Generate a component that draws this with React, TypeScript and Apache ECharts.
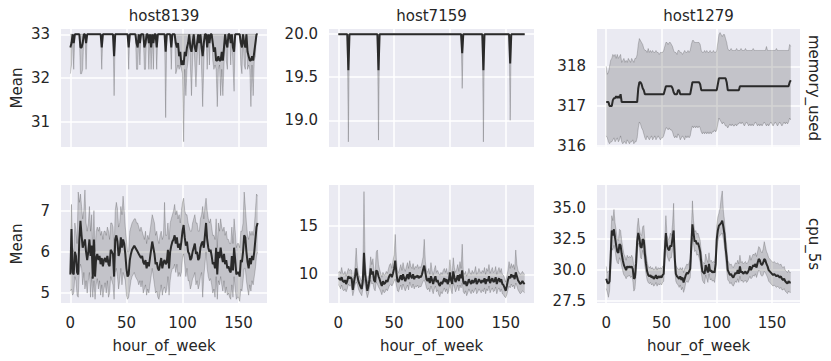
import React, { useEffect, useRef } from "react";
import * as echarts from "echarts";

const hostNames = ["host8139", "host7159", "host1279"];
const metricNames = ["memory_used", "cpu_5s"];
const hourOfWeek: number[] = Array.from({ length: 168 }, (_, i) => i);

// memory_used, host8139
const memMean8139 = [
  32.7, 32.8, 33, 32.8, 33, 33, 33, 33, 33, 32.7,
  32.7, 32.8, 33, 33, 32.8, 33, 33, 33, 33, 33,
  33, 33, 33, 33, 33, 33, 33, 33, 32.7, 33,
  33, 33, 33, 33, 33, 33, 33, 33, 33, 32.5,
  33, 33, 33, 33, 33, 33, 33, 33, 33, 33,
  33, 33, 32.7, 33, 33, 33, 33, 33, 33, 32.8,
  32.7, 33, 32.8, 33, 33, 33, 32.7, 32.8, 33, 33,
  32.8, 33, 32.7, 33, 32.8, 33, 33, 32.7, 33, 33,
  33, 33, 33, 33, 33, 32.6, 33, 33, 33, 33,
  32.7, 33, 33, 33, 32.8, 32.7, 32.8, 32.5, 32.6, 32.3,
  32.4, 32.3, 32.6, 32.5, 32.7, 32.8, 33, 32.7, 32.6, 32.8,
  33, 32.7, 32.6, 32.8, 33, 32.8, 33, 32.7, 32.5, 32.8,
  33, 33, 32.7, 33, 32.8, 33, 33, 32.8, 32.6, 32.7,
  32.4, 32.4, 32.5, 32.4, 32.4, 32.6, 32.4, 32.7, 33, 32.8,
  32.7, 33, 33, 32.8, 33, 32.7, 32.6, 33, 33, 33,
  33, 33, 32.8, 32.7, 33, 32.8, 32.7, 33, 32.6, 32.5,
  32.4, 32.4, 32.5, 32.4, 32.6, 32.8, 33, 33,
];
const memLow8139 = [
  32.1, 32.3, 33, 32.2, 33, 33, 33, 33, 33, 32.1,
  32.1, 32.2, 33, 33, 32.2, 33, 33, 33, 33, 33,
  33, 33, 33, 33, 33, 33, 33, 33, 32.2, 33,
  33, 33, 33, 33, 33, 33, 33, 33, 33, 31.6,
  33, 33, 33, 33, 33, 33, 33, 33, 33, 33,
  33, 33, 32.2, 33, 33, 33, 33, 33, 33, 32.2,
  32.2, 33, 32.3, 33, 33, 33, 32.2, 32.2, 33, 33,
  32.2, 33, 32.2, 33, 32.2, 33, 33, 32.2, 33, 33,
  33, 33, 33, 33, 33, 31.1, 33, 33, 33, 33,
  32.2, 33, 33, 33, 32.1, 32.2, 32.3, 32.2, 32.3, 32.2,
  32.1, 30.55, 32.2, 31.6, 32.2, 32.4, 33, 32.3, 31.6, 32.4,
  33, 32.3, 31.8, 32.4, 33, 32.3, 33, 32.2, 31.35, 32.3,
  33, 33, 32.2, 33, 32.3, 33, 33, 32.4, 32.2, 32.3,
  32.2, 31.35, 32.2, 32.3, 31.6, 32.2, 31.6, 32.3, 33, 32.4,
  32.2, 33, 33, 32.3, 33, 32.3, 31.7, 33, 33, 33,
  33, 33, 32.3, 32.1, 33, 32.3, 32.2, 33, 32.2, 32.3,
  32.2, 31.35, 32.3, 31.6, 32.4, 32.5, 33, 33,
];
const memHigh8139 = [
  33, 33, 33, 33, 33, 33, 33, 33, 33, 33,
  33, 33, 33, 33, 33, 33, 33, 33, 33, 33,
  33, 33, 33, 33, 33, 33, 33, 33, 33, 33,
  33, 33, 33, 33, 33, 33, 33, 33, 33, 33,
  33, 33, 33, 33, 33, 33, 33, 33, 33, 33,
  33, 33, 33, 33, 33, 33, 33, 33, 33, 33,
  33, 33, 33, 33, 33, 33, 33, 33, 33, 33,
  33, 33, 33, 33, 33, 33, 33, 33, 33, 33,
  33, 33, 33, 33, 33, 33, 33, 33, 33, 33,
  33, 33, 33, 33, 33, 33, 33, 33, 33, 33,
  33, 33, 33, 33, 33, 33, 33, 33, 33, 33,
  33, 33, 33, 33, 33, 33, 33, 33, 33, 33,
  33, 33, 33, 33, 33, 33, 33, 33, 33, 33,
  33, 33, 33, 33, 33, 33, 33, 33, 33, 33,
  33, 33, 33, 33, 33, 33, 33, 33, 33, 33,
  33, 33, 33, 33, 33, 33, 33, 33, 33, 33,
  33, 33, 33, 33, 33, 33, 33, 33,
];

// memory_used, host7159
const memMean7159 = [
  20, 20, 20, 20, 20, 20, 20, 20, 20, 19.58,
  20, 20, 20, 20, 20, 20, 20, 20, 20, 20,
  20, 20, 20, 20, 20, 20, 20, 20, 20, 20,
  20, 20, 20, 20, 20, 20, 19.58, 20, 20, 20,
  20, 20, 20, 20, 20, 20, 20, 20, 20, 20,
  20, 20, 20, 20, 20, 20, 20, 20, 20, 20,
  20, 20, 20, 20, 20, 20, 20, 20, 20, 20,
  20, 20, 20, 20, 20, 20, 20, 20, 20, 20,
  20, 20, 20, 20, 20, 20, 20, 20, 20, 20,
  20, 20, 20, 20, 20, 20, 20, 20, 20, 20,
  20, 20, 20, 20, 20, 20, 20, 20, 20, 20,
  20, 19.78, 20, 20, 20, 20, 20, 20, 20, 20,
  20, 20, 20, 20, 20, 20, 20, 20, 20, 20,
  19.58, 20, 20, 20, 20, 20, 20, 20, 20, 20,
  20, 20, 20, 20, 20, 20, 20, 20, 20, 20,
  20, 20, 20, 20, 19.66, 20, 20, 20, 20, 20,
  20, 20, 20, 20, 20, 20, 20, 20,
];
const memLow7159 = [
  20, 20, 20, 20, 20, 20, 20, 20, 20, 18.75,
  20, 20, 20, 20, 20, 20, 20, 20, 20, 20,
  20, 20, 20, 20, 20, 20, 20, 20, 20, 20,
  20, 20, 20, 20, 20, 20, 18.77, 20, 20, 20,
  20, 20, 20, 20, 20, 20, 20, 20, 20, 20,
  20, 20, 20, 20, 20, 20, 20, 20, 20, 20,
  20, 20, 20, 20, 20, 20, 20, 20, 20, 20,
  20, 20, 20, 20, 20, 20, 20, 20, 20, 20,
  20, 20, 20, 20, 20, 20, 20, 20, 20, 20,
  20, 20, 20, 20, 20, 20, 20, 20, 20, 20,
  20, 20, 20, 20, 20, 20, 20, 20, 20, 20,
  20, 19.37, 20, 20, 20, 20, 20, 20, 20, 20,
  20, 20, 20, 20, 20, 20, 20, 20, 20, 20,
  18.75, 20, 20, 20, 20, 20, 20, 20, 20, 20,
  20, 20, 20, 20, 20, 20, 20, 20, 20, 20,
  20, 20, 20, 20, 19.0, 20, 20, 20, 20, 20,
  20, 20, 20, 20, 20, 20, 20, 20,
];
const memHigh7159 = [
  20, 20, 20, 20, 20, 20, 20, 20, 20, 20,
  20, 20, 20, 20, 20, 20, 20, 20, 20, 20,
  20, 20, 20, 20, 20, 20, 20, 20, 20, 20,
  20, 20, 20, 20, 20, 20, 20, 20, 20, 20,
  20, 20, 20, 20, 20, 20, 20, 20, 20, 20,
  20, 20, 20, 20, 20, 20, 20, 20, 20, 20,
  20, 20, 20, 20, 20, 20, 20, 20, 20, 20,
  20, 20, 20, 20, 20, 20, 20, 20, 20, 20,
  20, 20, 20, 20, 20, 20, 20, 20, 20, 20,
  20, 20, 20, 20, 20, 20, 20, 20, 20, 20,
  20, 20, 20, 20, 20, 20, 20, 20, 20, 20,
  20, 20, 20, 20, 20, 20, 20, 20, 20, 20,
  20, 20, 20, 20, 20, 20, 20, 20, 20, 20,
  20, 20, 20, 20, 20, 20, 20, 20, 20, 20,
  20, 20, 20, 20, 20, 20, 20, 20, 20, 20,
  20, 20, 20, 20, 20, 20, 20, 20, 20, 20,
  20, 20, 20, 20, 20, 20, 20, 20,
];

// memory_used, host1279
const memMean1279 = [
  317.1, 317.1, 317.1, 317, 317, 317, 317.15, 317.2, 317.2, 317.25,
  317.2, 317.25, 317.2, 317.3, 317.1, 317.1, 317.1, 317.1, 317.1, 317.1,
  317.1, 317.1, 317.1, 317.1, 317.1, 317.1, 317.1, 317.1, 317.1, 317.45,
  317.6, 317.6, 317.55, 317.45, 317.4, 317.3, 317.3, 317.3, 317.3, 317.3,
  317.3, 317.3, 317.3, 317.3, 317.3, 317.3, 317.3, 317.3, 317.3, 317.3,
  317.3, 317.3, 317.3, 317.4, 317.5, 317.5, 317.5, 317.5, 317.5, 317.5,
  317.45, 317.35, 317.3, 317.3, 317.3, 317.4, 317.4, 317.3, 317.3, 317.3,
  317.3, 317.3, 317.3, 317.3, 317.3, 317.3, 317.3, 317.45, 317.6, 317.6,
  317.6, 317.6, 317.6, 317.6, 317.6, 317.55, 317.4, 317.4, 317.4, 317.4,
  317.4, 317.4, 317.4, 317.4, 317.4, 317.4, 317.4, 317.4, 317.4, 317.4,
  317.4, 317.55, 317.7, 317.7, 317.7, 317.7, 317.7, 317.7, 317.7, 317.6,
  317.4, 317.4, 317.4, 317.4, 317.4, 317.4, 317.4, 317.4, 317.4, 317.4,
  317.4, 317.5, 317.5, 317.5, 317.5, 317.5, 317.5, 317.5, 317.5, 317.5,
  317.5, 317.5, 317.5, 317.5, 317.5, 317.5, 317.5, 317.5, 317.5, 317.5,
  317.5, 317.5, 317.5, 317.5, 317.5, 317.5, 317.5, 317.5, 317.5, 317.5,
  317.5, 317.5, 317.5, 317.5, 317.5, 317.5, 317.5, 317.5, 317.5, 317.5,
  317.5, 317.5, 317.5, 317.5, 317.5, 317.5, 317.6, 317.65,
];
const memLow1279 = [
  316.25, 316.2, 316.1, 316.05, 316.1, 316.1, 316.15, 316.2, 316.1, 316.15,
  316.2, 316.1, 316.15, 316.25, 316.1, 316.05, 316.1, 316.1, 316.05, 316.15,
  316.1, 316.05, 316.1, 316.1, 316.15, 316.05, 316.1, 316.1, 316.2, 316.45,
  316.6, 316.55, 316.45, 316.4, 316.3, 316.2, 316.15, 316.25, 316.2, 316.15,
  316.2, 316.25, 316.15, 316.2, 316.25, 316.15, 316.2, 316.25, 316.2, 316.15,
  316.2, 316.2, 316.25, 316.35, 316.45, 316.45, 316.4, 316.45, 316.4, 316.4,
  316.35, 316.25, 316.2, 316.25, 316.2, 316.3, 316.25, 316.15, 316.2, 316.25,
  316.2, 316.15, 316.25, 316.2, 316.25, 316.2, 316.25, 316.4, 316.5, 316.45,
  316.5, 316.45, 316.5, 316.45, 316.5, 316.45, 316.35, 316.3, 316.35, 316.3,
  316.35, 316.3, 316.35, 316.3, 316.35, 316.3, 316.35, 316.35, 316.4, 316.35,
  316.4, 316.55, 316.7, 316.65, 316.6, 316.55, 316.6, 316.55, 316.5, 316.5,
  316.45, 316.5, 316.55, 316.5, 316.55, 316.5, 316.5, 316.55, 316.5, 316.55,
  316.55, 316.6, 316.55, 316.6, 316.55, 316.5, 316.55, 316.6, 316.55, 316.5,
  316.55, 316.5, 316.55, 316.5, 316.55, 316.6, 316.55, 316.5, 316.55, 316.5,
  316.55, 316.5, 316.55, 316.6, 316.55, 316.5, 316.55, 316.5, 316.55, 316.6,
  316.55, 316.5, 316.55, 316.6, 316.55, 316.5, 316.55, 316.6, 316.55, 316.5,
  316.55, 316.6, 316.55, 316.6, 316.55, 316.6, 316.7, 316.65,
];
const memHigh1279 = [
  318, 317.8, 317.85, 318, 318.15, 318.2, 318.3, 318.25, 318.3, 318.2,
  318.3, 318.2, 318.25, 318.3, 318.1, 318.15, 318.2, 318.1, 318.15, 318.1,
  318.2, 318.15, 318.1, 318.2, 318.15, 318.1, 318.2, 318.2, 318.3, 318.55,
  318.7, 318.65, 318.6, 318.55, 318.45, 318.4, 318.4, 318.35, 318.45, 318.35,
  318.4, 318.35, 318.4, 318.35, 318.35, 318.4, 318.35, 318.35, 318.3, 318.35,
  318.35, 318.35, 318.4, 318.5, 318.6, 318.6, 318.55, 318.6, 318.6, 318.55,
  318.5, 318.4, 318.35, 318.35, 318.3, 318.4, 318.4, 318.35, 318.35, 318.3,
  318.35, 318.4, 318.35, 318.35, 318.4, 318.35, 318.4, 318.55, 318.65, 318.65,
  318.6, 318.6, 318.6, 318.6, 318.6, 318.55, 318.4, 318.35, 318.35, 318.4,
  318.35, 318.4, 318.35, 318.35, 318.4, 318.35, 318.35, 318.4, 318.35, 318.35,
  318.4, 318.6, 318.8, 318.85, 318.8, 318.75, 318.8, 318.8, 318.7, 318.6,
  318.45, 318.4, 318.4, 318.45, 318.4, 318.4, 318.4, 318.4, 318.45, 318.4,
  318.4, 318.4, 318.45, 318.4, 318.4, 318.4, 318.45, 318.4, 318.4, 318.4,
  318.4, 318.4, 318.4, 318.45, 318.4, 318.4, 318.4, 318.4, 318.4, 318.4,
  318.4, 318.4, 318.4, 318.4, 318.4, 318.5, 318.4, 318.4, 318.4, 318.4,
  318.4, 318.4, 318.4, 318.4, 318.45, 318.4, 318.4, 318.4, 318.4, 318.4,
  318.4, 318.4, 318.4, 318.4, 318.4, 318.4, 318.55, 318.5,
];

// cpu_5s, host8139
const cpuMean8139 = [
  5.45, 6.55, 5.5, 5.45, 6.0, 5.9, 5.5, 5.45, 6.3, 6.75,
  6.4, 6.1, 6.2, 6.3, 6.0, 5.8, 6.0, 6.3, 5.9, 6.15,
  5.35, 6.3, 5.4, 5.85, 5.95, 5.8, 5.9, 5.7, 5.85, 5.65,
  5.8, 5.85, 5.75, 5.9, 5.7, 5.65, 6.05, 6.0, 5.95, 5.4,
  6.3, 6.4, 6.25, 5.9, 6.0, 6.35, 6.1, 6.3, 6.2, 5.95,
  5.6, 5.4, 5.45, 5.8, 5.95, 6.05, 6.1, 6.15, 6.1, 6.05,
  6.0, 5.95, 5.9, 5.85, 5.9, 5.75, 5.7, 5.8, 5.6, 5.75,
  5.65, 5.85, 6.05, 6.25, 6.1, 5.95, 5.7, 5.75, 5.6, 5.55,
  5.7, 5.85, 5.6, 5.75, 5.8, 5.7, 5.75, 6.05, 5.6, 6.0,
  6.15, 6.25, 6.3, 6.4, 6.2, 6.35, 6.1, 6.2, 6.05, 6.25,
  6.5, 6.65, 6.35, 6.15, 6.25, 6.0, 5.95, 5.8, 5.85, 6.0,
  6.1, 6.2, 5.95, 6.0, 5.8, 5.85, 6.1, 6.2, 6.25, 6.1,
  6.4, 6.7, 6.3, 6.1, 6.0, 6.05, 5.9, 5.7, 5.75, 5.6,
  6.1, 5.45, 6.0, 5.85, 6.1, 5.9, 5.75, 5.95, 5.7, 5.8,
  5.6, 5.65, 5.55, 5.5, 5.9, 5.55, 6.1, 5.8, 5.45, 5.5,
  5.5, 5.4, 5.8, 5.75, 6.0, 6.4, 6.35, 6.0, 5.75, 5.6,
  5.85, 5.7, 5.9, 5.8, 6.0, 6.3, 6.6, 6.7,
];
const cpuLow8139 = [
  5.05, 5.1, 4.95, 5.0, 5.4, 5.3, 4.95, 4.9, 5.5, 5.7,
  5.6, 5.2, 5.5, 5.1, 5.3, 5.0, 5.3, 5.5, 4.9, 5.4,
  4.9, 5.3, 4.85, 5.2, 5.35, 5.1, 5.3, 4.95, 5.2, 4.9,
  5.1, 5.25, 5.0, 5.3, 4.9, 5.0, 5.4, 5.3, 5.2, 4.85,
  5.5, 5.6, 5.4, 5.1, 5.3, 5.6, 5.2, 5.5, 5.4, 5.3,
  4.95, 4.85, 4.9, 5.1, 5.3, 5.4, 5.45, 5.5, 5.4, 5.35,
  5.3, 5.2, 5.3, 5.15, 5.3, 5.0, 5.1, 5.2, 4.95, 5.1,
  5.0, 5.2, 5.4, 5.6, 5.4, 5.2, 5.0, 5.05, 4.9, 4.85,
  5.0, 5.2, 4.95, 5.1, 5.15, 5.0, 5.1, 5.4, 4.95, 5.3,
  5.5, 5.6, 5.6, 5.7, 5.5, 5.7, 5.4, 5.5, 5.4, 5.5,
  5.85, 5.95, 5.7, 5.4, 5.6, 5.3, 5.3, 5.1, 5.2, 5.35,
  5.4, 5.5, 5.2, 5.3, 5.1, 5.2, 5.4, 5.5, 4.9, 5.4,
  5.7, 6.0, 5.6, 5.4, 5.3, 5.35, 5.2, 5.0, 5.1, 4.9,
  5.4, 4.85, 5.3, 5.2, 5.4, 5.2, 5.05, 5.3, 5.0, 5.15,
  4.95, 5.0, 4.9, 4.85, 5.2, 4.9, 5.4, 5.1, 4.85, 4.9,
  4.9, 4.8, 5.1, 5.05, 5.3, 5.6, 5.6, 5.3, 5.1, 4.95,
  5.2, 5.05, 5.3, 5.2, 5.4, 5.6, 5.9, 6.0,
];
const cpuHigh8139 = [
  6.0, 7.15, 6.1, 6.0, 6.7, 6.5, 6.2, 7.45, 7.2, 7.4,
  7.1, 6.8, 7.0, 7.5, 6.7, 6.5, 6.7, 7.1, 6.5, 6.9,
  6.0, 7.0, 6.0, 6.5, 6.6, 6.5, 6.6, 6.4, 6.5, 6.3,
  6.5, 6.5, 6.4, 6.6, 6.5, 6.3, 6.7, 6.7, 6.6, 6.0,
  7.0, 7.2, 7.05, 6.6, 6.7, 7.1, 6.9, 7.35, 7.0, 6.6,
  6.3, 6.0, 6.0, 6.5, 6.6, 6.7, 6.75, 6.8, 6.8, 6.7,
  6.7, 6.6, 6.5, 6.6, 6.5, 6.4, 6.3, 6.5, 6.2, 6.4,
  6.3, 6.5, 6.7, 6.9, 6.8, 6.7, 6.4, 6.5, 6.3, 6.2,
  6.4, 6.5, 6.3, 6.4, 7.2, 6.4, 6.4, 6.7, 6.3, 6.7,
  6.8, 6.9, 7.0, 7.15, 6.9, 7.0, 6.8, 6.9, 6.7, 7.0,
  7.2, 7.3, 7.0, 6.9, 6.9, 6.7, 6.6, 6.5, 6.5, 6.7,
  6.8, 6.9, 6.7, 6.7, 6.5, 6.5, 6.8, 6.9, 7.1, 6.8,
  7.1, 7.3, 7.0, 6.8, 6.7, 6.8, 6.6, 6.4, 6.4, 6.3,
  6.8, 6.1, 6.7, 6.5, 6.8, 6.6, 6.5, 6.6, 6.4, 6.5,
  6.3, 6.3, 6.2, 6.2, 6.6, 6.2, 6.8, 6.5, 6.1, 6.2,
  6.2, 6.1, 6.5, 6.5, 6.7, 7.45, 7.1, 6.7, 6.4, 6.3,
  6.5, 6.4, 6.5, 6.4, 6.6, 7.0, 7.4, 7.35,
];

// cpu_5s, host7159
const cpuMean7159 = [
  9.5, 9.6, 9.4, 9.7, 9.3, 9.2, 9.4, 9.0, 9.3, 9.8,
  9.6, 9.7, 9.5, 8.4, 9.2, 9.8, 10.6, 9.9, 9.3, 9.0,
  8.7, 8.5, 9.4, 12.2, 10.0, 9.2, 8.3, 8.8, 9.5, 10.6,
  10.0, 10.3, 9.4, 9.2, 10.4, 10.3, 9.8, 9.5, 9.1, 8.8,
  9.3, 9.0, 9.1, 9.4, 9.2, 9.6, 9.9, 10.0, 9.7, 10.1,
  10.6, 11.4, 10.2, 9.3, 9.2, 9.6, 9.9, 9.4, 10.0, 9.6,
  9.3, 9.7, 10.0, 9.5, 10.2, 9.8, 9.6, 10.0, 9.5, 9.8,
  9.7, 9.9, 9.6, 9.8, 9.7, 10.0, 10.5, 10.9, 10.2, 9.5,
  9.3, 9.6, 9.1, 9.8, 9.4, 9.0, 9.5, 9.8, 9.2, 9.4,
  9.0, 8.8, 9.2, 9.0, 9.3, 9.6, 9.2, 9.5, 9.0, 9.3,
  10.2, 9.4, 9.0, 10.3, 9.7, 9.2, 9.5, 9.9, 9.3, 10.0,
  9.6, 10.4, 9.2, 9.0, 9.3, 8.8, 9.1, 9.5, 9.2, 9.0,
  9.4, 9.1, 9.3, 9.6, 9.0, 9.2, 9.5, 9.3, 9.1, 9.4,
  9.2, 9.6, 9.0, 9.5, 9.3, 9.8, 9.1, 9.4, 9.6, 9.2,
  9.3, 9.7, 9.0, 9.4, 9.6, 9.2, 9.5, 9.0, 8.9, 8.6,
  8.3, 8.8, 9.4, 9.8, 9.6, 10.0, 9.7, 9.9, 9.5, 10.2,
  9.8, 9.4, 9.2, 9.0, 9.1, 9.3, 9.1, 9.0,
];
const cpuLow7159 = [
  8.9, 8.8, 8.5, 8.9, 8.4, 8.3, 8.5, 8.2, 8.5, 9.0,
  8.8, 8.9, 8.6, 7.8, 8.3, 8.9, 9.2, 9.0, 8.5, 8.2,
  8.0, 7.8, 8.5, 9.5, 8.8, 8.2, 7.6, 8.0, 8.6, 9.4,
  9.0, 9.1, 8.5, 8.3, 9.2, 9.0, 8.7, 8.5, 8.2, 7.9,
  8.4, 8.1, 8.2, 8.5, 8.3, 8.6, 8.9, 9.0, 8.8, 9.0,
  9.3, 9.5, 8.9, 8.3, 8.2, 8.6, 8.9, 8.4, 9.0, 8.6,
  8.3, 8.6, 8.9, 8.4, 9.2, 8.8, 8.6, 9.0, 8.5, 8.8,
  8.7, 8.9, 8.6, 8.8, 8.7, 9.0, 9.3, 9.4, 9.1, 8.6,
  8.4, 8.6, 8.2, 8.8, 8.4, 8.0, 8.5, 8.8, 8.2, 8.4,
  7.9, 7.7, 8.2, 8.0, 8.3, 8.6, 8.2, 8.5, 8.0, 8.3,
  9.0, 8.4, 8.0, 9.1, 8.7, 8.2, 8.5, 8.9, 8.3, 8.9,
  8.6, 9.1, 8.2, 8.0, 8.3, 7.8, 8.1, 8.5, 8.2, 8.0,
  8.4, 8.1, 8.3, 8.6, 8.0, 8.2, 8.5, 8.3, 8.1, 8.4,
  8.2, 8.6, 8.0, 8.5, 8.3, 8.8, 8.1, 8.4, 8.6, 8.2,
  8.3, 8.7, 8.0, 8.4, 8.6, 8.2, 8.5, 8.0, 7.9, 7.7,
  7.6, 7.9, 8.4, 8.8, 8.6, 9.0, 8.7, 8.9, 8.5, 9.1,
  8.8, 8.4, 8.2, 8.0, 8.1, 8.3, 8.2, 8.1,
];
const cpuHigh7159 = [
  10.2, 10.3, 10.1, 10.7, 10.1, 10.0, 10.3, 9.8, 10.2, 10.6,
  10.4, 10.5, 10.4, 9.1, 10.1, 10.8, 12.7, 10.9, 10.1, 9.8,
  9.5, 9.3, 10.4, 18.5, 11.3, 10.2, 9.1, 9.7, 10.5, 11.8,
  11.0, 11.6, 10.3, 10.2, 12.3, 12.5, 11.0, 10.5, 10.1, 9.7,
  10.2, 9.9, 10.0, 10.3, 10.1, 10.6, 11.0, 11.1, 10.6, 11.4,
  12.0, 14.1, 11.6, 10.3, 10.2, 10.6, 11.0, 10.4, 11.2, 10.6,
  10.3, 10.8, 11.2, 10.6, 11.4, 10.8, 10.6, 11.1, 10.5, 10.8,
  10.7, 11.0, 10.6, 10.8, 10.7, 11.2, 11.8, 13.6, 11.3, 10.4,
  10.2, 10.6, 10.0, 11.2, 10.4, 9.9, 10.5, 10.9, 10.2, 10.4,
  10.1, 9.9, 10.2, 10.0, 10.4, 10.6, 10.2, 10.6, 10.0, 10.3,
  11.5, 10.4, 10.0, 11.7, 10.7, 10.2, 10.5, 11.0, 10.3, 11.3,
  10.6, 13.1, 10.2, 10.0, 10.3, 9.8, 10.1, 10.6, 10.2, 10.0,
  10.4, 10.1, 10.3, 10.8, 10.0, 10.2, 10.6, 10.3, 10.1, 10.4,
  10.2, 10.7, 10.0, 10.6, 10.3, 11.0, 10.1, 10.4, 10.7, 10.2,
  10.3, 10.8, 10.0, 10.4, 10.7, 10.2, 10.6, 10.0, 9.9, 9.6,
  9.2, 9.8, 10.4, 11.3, 10.6, 11.1, 10.7, 11.0, 10.5, 12.5,
  11.0, 10.4, 10.2, 10.0, 10.1, 10.3, 10.1, 10.0,
];

// cpu_5s, host1279
const cpuMean1279 = [
  29.3, 29.0, 28.9, 29.1, 31.0, 33.2, 32.8, 33.3, 32.6, 32.0,
  31.5, 31.4, 32.1, 32.0, 31.3, 30.8, 30.4, 30.2, 30.0, 30.3,
  30.2, 30.3, 30.2, 30.3, 30.1, 29.3, 29.4, 30.5, 32.3, 33.0,
  32.6, 31.9, 31.8, 32.5, 32.4, 31.3, 30.5, 29.9, 29.6, 29.5,
  29.6, 29.4, 29.5, 29.3, 29.4, 29.6, 29.3, 29.5, 29.4, 29.5,
  29.4, 29.6, 29.7, 31.5, 33.0, 32.0, 31.7, 31.6, 32.0, 31.9,
  32.6, 33.2, 31.0, 29.7, 29.5, 29.4, 29.3, 29.5, 29.2, 29.4,
  29.0, 29.3, 29.6, 29.8, 29.7, 29.9, 30.1, 32.0, 33.7, 33.0,
  32.3, 32.4, 32.1, 32.2, 31.9, 31.5, 30.6, 29.9, 29.8, 29.7,
  30.4, 30.1, 29.8, 30.5, 29.9, 30.0, 29.8, 29.9, 29.8, 30.5,
  32.5, 33.2, 33.6, 33.7, 33.8, 34.0, 33.5, 32.9, 31.8, 31.0,
  30.0, 29.8, 29.6, 29.7, 29.5, 29.4, 29.6, 29.8, 29.7, 30.0,
  29.7, 30.3, 29.8, 29.9, 29.7, 29.8, 29.9, 29.7, 29.8, 30.0,
  30.3, 30.0, 30.2, 30.4, 30.3, 30.5, 30.2, 30.6, 30.9, 30.8,
  30.5, 30.4, 30.6, 30.9, 30.8, 30.5, 30.3, 30.0, 29.9, 29.8,
  29.7, 29.6, 29.7, 29.6, 29.5, 29.6, 29.5, 29.4, 29.5, 29.3,
  29.2, 29.3, 29.1, 29.0, 28.9, 29.1, 29.0, 29.0,
];
const cpuLow1279 = [
  28.5, 28.2, 27.8, 28.3, 29.8, 31.8, 31.6, 32.0, 31.6, 30.9,
  30.6, 30.5, 31.0, 30.8, 30.3, 29.9, 29.6, 29.5, 29.3, 29.5,
  29.5, 29.6, 29.4, 29.5, 29.2, 28.3, 28.5, 29.6, 31.3, 32.2,
  31.9, 31.0, 30.9, 31.6, 31.2, 30.3, 29.7, 29.2, 29.0, 28.9,
  29.0, 28.8, 28.9, 28.7, 28.8, 29.0, 28.7, 28.9, 28.8, 28.9,
  28.8, 29.0, 29.1, 30.5, 32.1, 31.2, 30.9, 30.7, 31.0, 31.0,
  31.6, 32.0, 30.0, 29.1, 28.9, 28.8, 28.6, 28.8, 28.4, 28.6,
  28.2, 28.5, 29.0, 29.1, 29.0, 29.2, 29.4, 30.9, 32.6, 32.1,
  31.5, 31.6, 31.2, 31.3, 31.0, 30.6, 29.8, 29.2, 29.0, 28.9,
  29.6, 29.3, 29.0, 29.7, 29.2, 29.3, 29.1, 29.2, 29.0, 29.6,
  31.5, 32.3, 32.7, 32.8, 32.9, 33.0, 32.5, 31.9, 30.9, 30.0,
  29.2, 29.1, 28.9, 29.0, 28.8, 28.7, 28.9, 29.1, 29.0, 29.3,
  29.0, 29.5, 29.1, 29.2, 29.0, 29.1, 29.2, 29.0, 29.1, 29.3,
  29.5, 29.3, 29.4, 29.6, 29.5, 29.7, 29.4, 29.7, 30.0, 29.9,
  29.6, 29.5, 29.6, 29.9, 29.8, 29.6, 29.4, 29.1, 29.0, 28.9,
  28.8, 28.7, 28.8, 28.7, 28.6, 28.7, 28.6, 28.5, 28.6, 28.4,
  28.4, 28.5, 28.3, 28.2, 28.1, 28.3, 28.2, 28.2,
];
const cpuHigh1279 = [
  30.3, 29.8, 29.9, 30.0, 32.2, 34.4, 34.0, 34.9, 33.8, 33.2,
  32.5, 32.4, 33.3, 33.2, 32.4, 31.8, 31.3, 31.1, 30.8, 31.2,
  31.0, 31.1, 31.0, 31.2, 31.0, 30.3, 30.4, 31.5, 33.4, 34.2,
  33.4, 32.9, 32.8, 33.5, 33.6, 32.4, 31.4, 30.7, 30.3, 30.2,
  30.3, 30.1, 30.2, 30.0, 30.1, 30.3, 30.0, 30.2, 30.1, 30.2,
  30.1, 30.3, 30.4, 32.6, 34.4, 32.8, 32.5, 32.5, 33.0, 32.8,
  33.7, 35.4, 32.0, 30.4, 30.2, 30.1, 30.0, 30.2, 30.0, 30.2,
  29.8, 30.1, 30.3, 30.5, 30.4, 30.6, 30.9, 33.2, 35.6, 34.0,
  33.1, 33.2, 32.9, 33.0, 32.7, 32.4, 31.5, 30.7, 30.6, 30.5,
  31.3, 30.9, 30.6, 31.4, 30.7, 30.8, 30.6, 30.7, 30.6, 31.4,
  33.6, 34.3, 34.6, 35.0, 35.8, 36.4, 34.8, 34.0, 32.8, 32.0,
  30.8, 30.6, 30.4, 30.5, 30.3, 30.2, 30.4, 30.6, 30.5, 30.8,
  30.5, 31.2, 30.6, 30.7, 30.5, 30.6, 30.7, 30.5, 30.6, 30.8,
  31.2, 30.8, 31.1, 31.3, 31.2, 31.4, 31.1, 31.5, 31.9, 31.8,
  31.5, 31.4, 31.7, 32.3, 31.9, 31.5, 31.3, 31.0, 30.9, 30.8,
  30.7, 30.6, 30.7, 30.6, 30.5, 30.6, 30.5, 30.4, 30.5, 30.3,
  30.2, 30.3, 30.0, 29.9, 29.8, 30.0, 29.8, 29.8,
];

const xTicks = [0, 50, 100, 150];

const FONT = "DejaVu Sans";
const TXT = "#262626";
const BG = "#EAEAF2";
const LINE = "#2a2a2a";
const BAND = "rgba(38,38,38,0.2)";
const EDGE = "rgba(38,38,38,0.22)";

export default function App() {
  const ref = useRef<HTMLDivElement>(null);
  useEffect(() => {
    document.body.style.margin = "0";
    const chart = echarts.init(ref.current!, null, { renderer: "svg" });

    const colLeft = [61, 329, 597];
    const colWidth = [206, 205, 203];
    const rowTop = [29, 185];
    const H = 118;

    const panels = [
      { mean: memMean8139, low: memLow8139, high: memHigh8139, min: 30.43, max: 33.12, ticks: [31, 32, 33], dec: 0 },
      { mean: memMean7159, low: memLow7159, high: memHigh7159, min: 18.69, max: 20.06, ticks: [19, 19.5, 20], dec: 1 },
      { mean: memMean1279, low: memLow1279, high: memHigh1279, min: 315.97, max: 318.94, ticks: [316, 317, 318], dec: 0 },
      { mean: cpuMean8139, low: cpuLow8139, high: cpuHigh8139, min: 4.76, max: 7.62, ticks: [5, 6, 7], dec: 0 },
      { mean: cpuMean7159, low: cpuLow7159, high: cpuHigh7159, min: 7.05, max: 19.18, ticks: [10, 15], dec: 0 },
      { mean: cpuMean1279, low: cpuLow1279, high: cpuHigh1279, min: 27.34, max: 36.88, ticks: [27.5, 30, 32.5, 35], dec: 1 },
    ];

    const grids: any[] = [];
    const xAxes: any[] = [];
    const yAxes: any[] = [];
    const series: any[] = [];

    panels.forEach((p, i) => {
      const r = Math.floor(i / 3);
      const c = i % 3;
      grids.push({
        left: colLeft[c],
        top: rowTop[r],
        width: colWidth[c],
        height: H,
        show: true,
        backgroundColor: BG,
        borderWidth: 0,
        containLabel: false,
      });
      xAxes.push({
        type: "value",
        gridIndex: i,
        min: -8.35,
        max: 175.35,
        axisLine: { show: false },
        axisTick: { show: false, customValues: xTicks },
        axisLabel: {
          show: r === 1,
          customValues: xTicks,
          color: TXT,
          fontSize: 15,
          fontFamily: FONT,
          margin: 12,
        },
        splitLine: { show: true, lineStyle: { color: "#ffffff", width: 1.5 } },
      });
      yAxes.push({
        type: "value",
        gridIndex: i,
        min: p.min,
        max: p.max,
        axisLine: { show: false },
        axisTick: { show: false, customValues: p.ticks },
        axisLabel: {
          customValues: p.ticks,
          color: TXT,
          fontSize: 15,
          fontFamily: FONT,
          margin: 11,
          formatter: (v: number) => v.toFixed(p.dec),
        },
        splitLine: { show: true, lineStyle: { color: "#ffffff", width: 1.5 } },
      });
      // confidence band as one polygon
      series.push({
        type: "custom",
        xAxisIndex: i,
        yAxisIndex: i,
        silent: true,
        clip: true,
        z: 1,
        data: hourOfWeek.map((h, k) => [h, p.low[k], p.high[k]]),
        encode: { x: 0, y: [1, 2] },
        renderItem: (params: any, api: any) => {
          if (params.dataIndex !== 0) return null;
          const pts: number[][] = [];
          for (let k = 0; k < hourOfWeek.length; k++) pts.push(api.coord([hourOfWeek[k], p.high[k]]));
          for (let k = hourOfWeek.length - 1; k >= 0; k--) pts.push(api.coord([hourOfWeek[k], p.low[k]]));
          return { type: "polygon", shape: { points: pts }, style: { fill: BAND, stroke: null } };
        },
      });
      series.push({
        type: "line",
        xAxisIndex: i,
        yAxisIndex: i,
        symbol: "none",
        silent: true,
        lineStyle: { color: EDGE, width: 1 },
        data: hourOfWeek.map((h, k) => [h, p.low[k]]),
        z: 2,
      });
      series.push({
        type: "line",
        xAxisIndex: i,
        yAxisIndex: i,
        symbol: "none",
        silent: true,
        lineStyle: { color: EDGE, width: 1 },
        data: hourOfWeek.map((h, k) => [h, p.high[k]]),
        z: 2,
      });
      series.push({
        type: "line",
        xAxisIndex: i,
        yAxisIndex: i,
        symbol: "none",
        silent: true,
        lineStyle: { color: LINE, width: 2 },
        data: hourOfWeek.map((h, k) => [h, p.mean[k]]),
        z: 3,
      });
    });

    const textStyle = (text: string) => ({
      text,
      fontSize: 15,
      fontFamily: FONT,
      fill: TXT,
      align: "center",
      verticalAlign: "middle",
    });

    const graphic: any[] = [];
    hostNames.forEach((name, c) => {
      graphic.push({ type: "text", x: colLeft[c] + colWidth[c] / 2, y: 16, style: textStyle(name) });
      graphic.push({ type: "text", x: colLeft[c] + colWidth[c] / 2, y: 346, style: textStyle("hour_of_week") });
    });
    metricNames.forEach((name, r) => {
      const cy = rowTop[r] + H / 2;
      graphic.push({ type: "text", x: 17, y: cy, rotation: Math.PI / 2, style: textStyle("Mean") });
      graphic.push({ type: "text", x: 814, y: cy, rotation: -Math.PI / 2, style: textStyle(name) });
    });

    chart.setOption({
      animation: false,
      backgroundColor: "#ffffff",
      grid: grids,
      xAxis: xAxes,
      yAxis: yAxes,
      series,
      graphic,
    });
    return () => chart.dispose();
  }, []);
  return <div ref={ref} style={{ width: 831, height: 361 }} />;
}
